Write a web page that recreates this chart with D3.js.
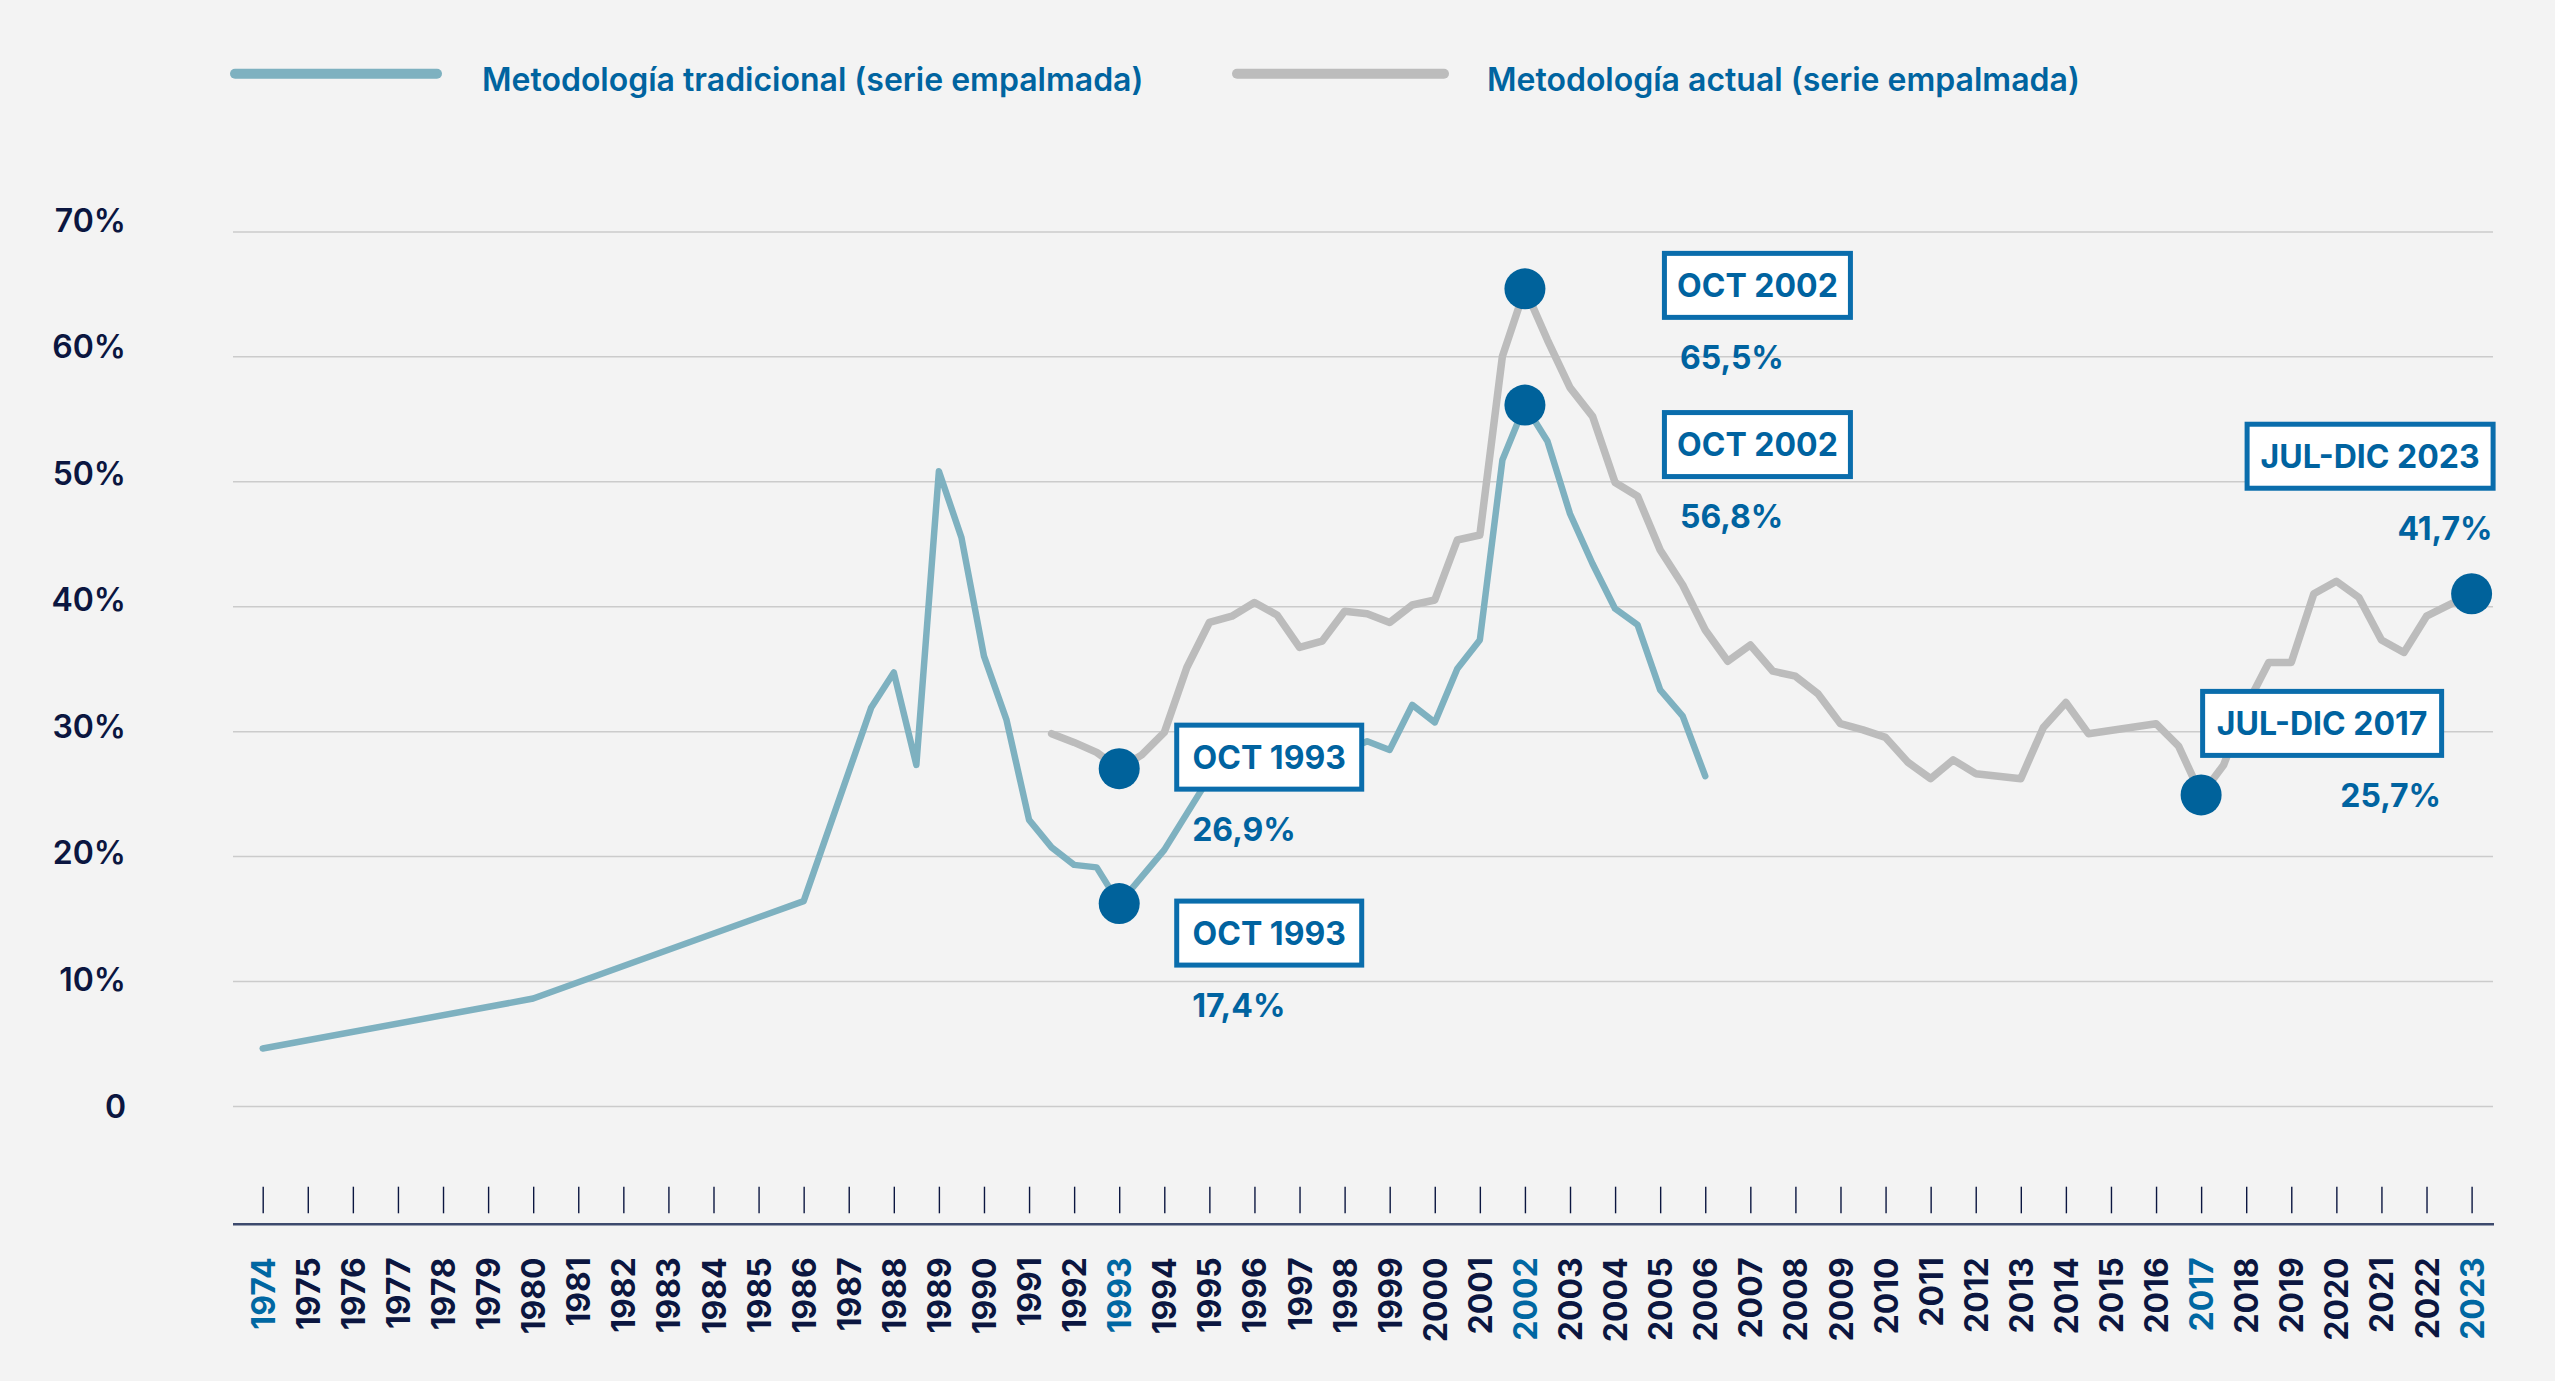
<!DOCTYPE html>
<html>
<head>
<meta charset="utf-8">
<script src="https://cdn.jsdelivr.net/npm/d3@7"></script>
<style>
  html, body { margin: 0; padding: 0; background: #f3f3f3; }
  svg { display: block; }
  text { font-family: Inter, "Noto Sans", sans-serif; }
</style>
</head>
<body>
<svg id="chart" width="2555" height="1381"></svg>
<script>
// ---------------- DATA ----------------
const seriesNames = ["Metodología tradicional (serie empalmada)", "Metodología actual (serie empalmada)"];

const xTickYears = [1974, 1975, 1976, 1977, 1978, 1979, 1980, 1981, 1982, 1983, 1984, 1985, 1986, 1987, 1988, 1989,
  1990, 1991, 1992, 1993, 1994, 1995, 1996, 1997, 1998, 1999, 2000, 2001, 2002, 2003, 2004, 2005, 2006, 2007, 2008,
  2009, 2010, 2011, 2012, 2013, 2014, 2015, 2016, 2017, 2018, 2019, 2020, 2021, 2022, 2023];
const highlightYears = [1974, 1993, 2002, 2017, 2023];
const yTicks = [0, 10, 20, 30, 40, 50, 60, 70];

// Traditional methodology (spliced series)
const tradPeriods = [1974, 1980, 1986, 1987.5, 1988, 1988.5, 1989, 1989.5, 1990, 1990.5, 1991, 1991.5, 1992, 1992.5, 1993,
  1994, 1994.5, 1995, 1995.5, 1996, 1996.5, 1997, 1997.5, 1998, 1998.5,
  1999, 1999.5, 2000, 2000.5, 2001, 2001.5, 2002, 2002.5, 2003, 2003.5, 2004, 2004.5, 2005, 2005.5, 2006];
const tradValues = [4.6, 8.6, 16.4, 31.9, 34.7, 27.3, 50.8, 45.5, 36.0, 30.9, 22.9, 20.7, 19.3, 19.1, 16.2,
  20.5, 23.4, 26.3, 27.5, 28.0, 27.0, 26.5, 27.8, 28.4, 29.2,
  28.5, 32.1, 30.7, 35.0, 37.3, 51.7, 56.1, 53.2, 47.4, 43.4, 39.8, 38.5, 33.3, 31.2, 26.4];

// Current methodology (spliced series)
const actPeriods = [1991.5, 1992, 1992.5, 1993, 1993.5, 1994, 1994.5, 1995, 1995.5, 1996, 1996.5, 1997, 1997.5, 1998,
  1998.5, 1999, 1999.5, 2000, 2000.5, 2001, 2001.5, 2002, 2002.5, 2003, 2003.5, 2004, 2004.5, 2005, 2005.5, 2006,
  2006.5, 2007, 2007.5, 2008, 2008.5, 2009, 2009.5, 2010, 2010.5, 2011, 2011.5, 2012, 2012.5, 2013, 2013.5, 2014,
  2014.5, 2016, 2016.5, 2017, 2017.5, 2018, 2018.5, 2019, 2019.5, 2020, 2020.5, 2021, 2021.5, 2022, 2022.5, 2023];
const actValues = [29.8, 29.1, 28.3, 27.0, 28.1, 29.9, 35.1, 38.7, 39.2, 40.3, 39.3, 36.7, 37.2, 39.6,
  39.4, 38.7, 40.1, 40.5, 45.3, 45.7, 60.0, 65.4, 61.3, 57.5, 55.2, 49.9, 48.8, 44.5, 41.7, 38.1,
  35.6, 36.9, 34.8, 34.4, 33.0, 30.6, 30.1, 29.5, 27.5, 26.2, 27.7, 26.6, 26.4, 26.2, 30.3, 32.3,
  29.8, 30.6, 28.8, 24.9, 27.3, 32.0, 35.5, 35.5, 41.0, 42.0, 40.7, 37.3, 36.3, 39.2, 40.1, 41.0];

// Annotations
const annoSeries = ["act", "trad", "act", "trad", "act", "act"];
const annoPeriods = [1993, 1993, 2002, 2002, 2017, 2023];
const annoLabels = ["OCT 1993", "OCT 1993", "OCT 2002", "OCT 2002", "JUL-DIC 2017", "JUL-DIC 2023"];
const annoValueLabels = ["26,9%", "17,4%", "65,5%", "56,8%", "25,7%", "41,7%"];

// ---------------- LAYOUT / STYLE ----------------
const C = {
  bg: "#f3f3f3", trad: "#7eb1c0", act: "#bcbcbc", dot: "#00629b", blue: "#0063a0",
  boxStroke: "#0a6dac", navy: "#0b1640", grid: "#cbcbcb", axis: "#3d4a6d"
};
// box offsets relative to marker centre: left(dx), top(dy), width; value label anchor
const annoLayout = [
  { dx: 55, dy: -46, w: 190, vAnchor: "start" },
  { dx: 55, dy: -5, w: 190, vAnchor: "start" },
  { dx: 137, dy: -38, w: 191, vAnchor: "start" },
  { dx: 137, dy: 5, w: 191, vAnchor: "start" },
  { dx: -1, dy: -106, w: 244, vAnchor: "end" },
  { dx: -227, dy: -172, w: 251, vAnchor: "end" }
];

const svg = d3.select("#chart");
svg.append("rect").attr("width", 2555).attr("height", 1381).attr("fill", C.bg);

const x = d3.scaleLinear().domain([1974, 2023]).range([262.7, 2471.6]);
const y = d3.scaleLinear().domain([0, 70]).range([1106, 231.4]);
// y-axis labels in the original sit on a slightly wider spacing than the gridlines
const yLab = d3.scaleLinear().domain([0, 70]).range([1117, 231]);
const plotLeft = 233, plotRight = 2493;

// ---- Y axis with gridlines ----
const yAxis = d3.axisLeft(y).tickValues(yTicks)
  .tickFormat(v => v === 0 ? "0" : v + "%")
  .tickSize(-(plotRight - plotLeft)).tickPadding(0);
const gy = svg.append("g").attr("transform", `translate(${plotLeft},0)`).call(yAxis);
gy.select(".domain").remove();
gy.selectAll(".tick line").attr("stroke", C.grid).attr("stroke-width", 1.5);
gy.selectAll(".tick text")
  .attr("x", 126 - plotLeft).attr("dy", 0).attr("y", d => yLab(d) - y(d)).attr("text-anchor", "end")
  .attr("fill", C.navy).style("font-size", "32px").style("font-weight", 600);

// ---- X axis: ticks above a baseline, rotated labels below ----
const gTicks = svg.append("g").attr("transform", "translate(0,1213.3)")
  .call(d3.axisTop(x).tickValues(xTickYears).tickSize(26.6).tickFormat(""));
gTicks.select(".domain").remove();
gTicks.selectAll(".tick line").attr("stroke", "#0b1640").attr("stroke-width", 1.4);

svg.append("line").attr("x1", plotLeft).attr("x2", plotRight + 1)
  .attr("y1", 1224.3).attr("y2", 1224.3).attr("stroke", C.axis).attr("stroke-width", 2.6);

const gLabels = svg.append("g").attr("transform", "translate(0,1224.3)")
  .call(d3.axisBottom(x).tickValues(xTickYears).tickSize(0).tickFormat(d3.format("d")));
gLabels.select(".domain").remove();
gLabels.selectAll(".tick text")
  .attr("transform", "rotate(-90)").attr("x", -33).attr("y", 0).attr("dy", "0.36em")
  .attr("text-anchor", "end")
  .attr("fill", d => highlightYears.includes(d) ? "#0067a2" : C.navy)
  .style("font-size", "32px").style("font-weight", 700);

// ---- Lines ----
const tradData = tradPeriods.map((p, i) => ({ p, v: tradValues[i] }));
const actData = actPeriods.map((p, i) => ({ p, v: actValues[i] }));
const line = d3.line().x(d => x(d.p)).y(d => y(d.v));

svg.append("path").datum(actData).attr("d", line).attr("fill", "none")
  .attr("stroke", C.act).attr("stroke-width", 7.5).attr("stroke-linejoin", "round").attr("stroke-linecap", "round");
svg.append("path").datum(tradData).attr("d", line).attr("fill", "none")
  .attr("stroke", C.trad).attr("stroke-width", 6.5).attr("stroke-linejoin", "round").attr("stroke-linecap", "round");

// ---- Markers & annotations ----
const seriesMap = { trad: tradData, act: actData };
const annos = annoPeriods.map((p, i) => {
  const d = seriesMap[annoSeries[i]].find(e => e.p === p);
  return { p, v: d.v, label: annoLabels[i], value: annoValueLabels[i], lay: annoLayout[i] };
});

svg.append("g").selectAll("circle").data(annos).join("circle")
  .attr("cx", d => x(d.p)).attr("cy", d => y(d.v)).attr("r", 20.5).attr("fill", C.dot);

const ga = svg.append("g").selectAll("g").data(annos).join("g");
const bh = 69, sw = 5;
ga.append("rect")
  .attr("x", d => x(d.p) + d.lay.dx + sw / 2).attr("y", d => y(d.v) + d.lay.dy + sw / 2)
  .attr("width", d => d.lay.w - sw).attr("height", bh - sw)
  .attr("fill", "#ffffff").attr("stroke", C.boxStroke).attr("stroke-width", sw);
ga.append("text")
  .attr("x", d => x(d.p) + d.lay.dx + d.lay.w / 2).attr("y", d => y(d.v) + d.lay.dy + 46)
  .attr("text-anchor", "middle").attr("fill", C.blue)
  .style("font-size", "32px").style("font-weight", 700).text(d => d.label);
ga.append("text")
  .attr("x", d => d.lay.vAnchor === "start" ? x(d.p) + d.lay.dx + 18 : x(d.p) + d.lay.dx + d.lay.w - 3)
  .attr("y", d => y(d.v) + d.lay.dy + bh + 49)
  .attr("text-anchor", d => d.lay.vAnchor).attr("fill", C.blue)
  .style("font-size", "32px").style("font-weight", 700).text(d => d.value);

// ---- Legend ----
const legendItems = [
  { name: seriesNames[0], color: C.trad, x1: 235, x2: 437, tx: 482 },
  { name: seriesNames[1], color: C.act, x1: 1237, x2: 1444, tx: 1487 }
];
const gl = svg.append("g").selectAll("g").data(legendItems).join("g");
gl.append("line").attr("x1", d => d.x1).attr("x2", d => d.x2).attr("y1", 73.8).attr("y2", 73.8)
  .attr("stroke", d => d.color).attr("stroke-width", 10).attr("stroke-linecap", "round");
gl.append("text").attr("x", d => d.tx).attr("y", 90.7).attr("fill", "#0064a0")
  .style("font-size", "32px").style("font-weight", 600).text(d => d.name);
</script>
</body>
</html>
